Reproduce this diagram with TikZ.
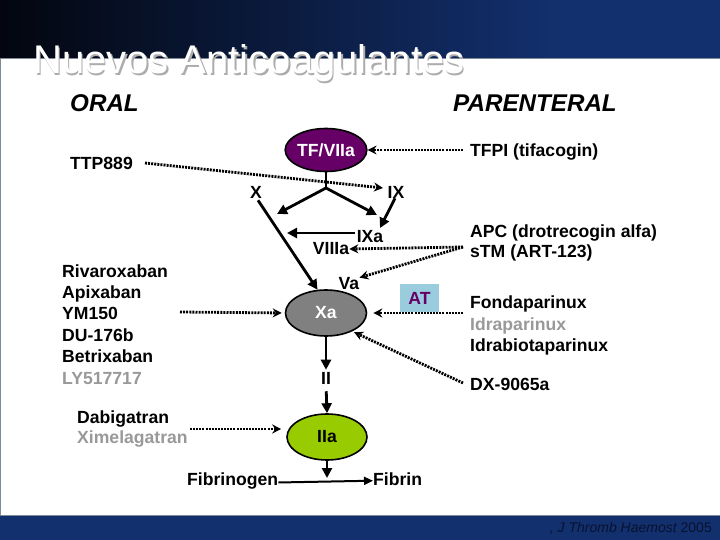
\documentclass[tikz,border=0pt]{standalone}
\usepackage{fontspec}
\setmainfont{Liberation Sans}
\usetikzlibrary{arrows.meta,shapes.geometric}
\definecolor{hdrdark}{HTML}{03060F}
\definecolor{hdrblue}{HTML}{13306E}
\definecolor{tfpurple}{HTML}{660066}
\definecolor{xagray}{HTML}{808080}
\definecolor{iiagreen}{HTML}{99CC00}
\definecolor{atblue}{HTML}{99CCDD}
\definecolor{paletxt}{HTML}{999999}
\definecolor{foottxt}{HTML}{081230}
\definecolor{rulegray}{HTML}{7F8A99}
\begin{document}
\begin{tikzpicture}[x=1pt,y=-1pt,
  lbl/.style={font=\fontsize{17.6}{20}\selectfont\bfseries, inner sep=0pt, anchor=base west},
  mid/.style={font=\fontsize{17.6}{20}\selectfont\bfseries, inner sep=0pt},
  pale/.style={text=paletxt},
  factor/.style={ellipse, draw=black, line width=1.6pt, inner sep=0pt, font=\fontsize{17.6}{20}\selectfont\bfseries},
  react/.style={line width=2.8pt, -{Triangle[length=10pt,width=10pt]}},
  inhib/.style={line width=2.8pt, dash pattern=on 2pt off 1.1pt, -{Stealth[length=9pt,width=9pt,inset=3pt]}},
  heading/.style={font=\fontsize{24.2}{25}\selectfont\bfseries\itshape, inner sep=0pt, anchor=base west},
  titletxt/.style={font=\fontsize{40}{40}\selectfont, inner sep=0pt, anchor=base west}
]
\useasboundingbox (0,0) rectangle (720,540);
\fill[white] (0,0) rectangle (720,540);
% header and footer bands
\shade[left color=hdrdark, right color=hdrblue] (0,0) rectangle (560,58);
\fill[hdrblue] (559.5,0) rectangle (720,58);
\draw[rulegray, line width=1pt] (0,58.5) -- (720,58.5);
\draw[rulegray, line width=1pt] (0.5,58) -- (0.5,516);
\fill[hdrblue] (0,516) rectangle (720,540);
\draw[rulegray, line width=1pt] (0,515.5) -- (720,515.5);

% title
\node[titletxt, text=gray!65] (titleshadow) at (34.5,75.5) {Nuevos Anticoagulantes};
\node[titletxt, text=white] (title) at (33,74) {Nuevos Anticoagulantes};

% headings
\node[heading] (oral) at (70,112) {ORAL};
\node[heading] (parent) at (453,112) {PARENTERAL};

% factor ellipses
\node[factor, fill=tfpurple, text=white, minimum width=78pt, minimum height=43pt] (tf) at (326,150) {TF/VIIa};
\node[factor, fill=xagray, text=white, minimum width=81pt, minimum height=46pt] (xa) at (326,313) {Xa};
\node[factor, fill=iiagreen, minimum width=80pt, minimum height=46pt] (iia) at (327,437) {IIa};

% cascade labels
\node[mid] (x) at (256,192) {X};
\node[mid] (ix) at (396,192) {IX};
\node[mid] (ixa) at (370,237) {IXa};
\node[mid] (viiia) at (331,249) {VIIIa};
\node[mid] (va) at (349,284) {Va};
\node[mid] (ii) at (326,378) {II};
\node[mid, fill=atblue, text=tfpurple, minimum width=39pt, minimum height=28pt] (at) at (419.5,298) {AT};

% drug texts
\node[lbl] (ttp) at (70,170) {TTP889};
\node[lbl] (tfpi) at (470,157) {TFPI (tifacogin)};
\node[lbl] (apc) at (470,237) {APC (drotrecogin alfa)};
\node[lbl] (stm) at (470,258) {sTM (ART-123)};
\node[lbl] (riva) at (62,277) {Rivaroxaban};
\node[lbl] (api) at (62,298) {Apixaban};
\node[lbl] (ym) at (62,319) {YM150};
\node[lbl] (du) at (62,341) {DU-176b};
\node[lbl] (betri) at (62,362) {Betrixaban};
\node[lbl, pale] (ly) at (62,384) {LY517717};
\node[lbl] (dabi) at (77,423) {Dabigatran};
\node[lbl, pale] (xime) at (77,443) {Ximelagatran};
\node[lbl] (fonda) at (470,308) {Fondaparinux};
\node[lbl, pale] (idra) at (470,330) {Idraparinux};
\node[lbl] (idrabio) at (470,351) {Idrabiotaparinux};
\node[lbl] (dx) at (470,390) {DX-9065a};
\node[lbl] (fibgen) at (187,485) {Fibrinogen};
\node[lbl] (fibrin) at (373,485) {Fibrin};

% footer
\node[font=\fontsize{14}{14}\selectfont, text=foottxt, inner sep=0pt, anchor=base east] (cite) at (712,532) {\itshape , J Thromb Haemost\upshape\ 2005};

% free connector ends
\coordinate (j) at (326,188);
\coordinate (xl) at (277,214);
\coordinate (xr) at (377,215);
\coordinate (ixtip) at (380,228);
\coordinate (ixaend) at (287,233);
\coordinate (ttpstart) at (145,163);
\coordinate (ttpend) at (383,188);
\coordinate (tfpistart) at (463,150);
\coordinate (apcstart) at (463,247);
\coordinate (fondastart) at (463,313);
\coordinate (dxstart) at (463,383);
\coordinate (liststart) at (180,312);
\coordinate (dabistart) at (190,429);
\coordinate (fibjoin) at (327,478);

% reactions
\draw[line width=2.8pt] (tf.south) -- (j);
\draw[react] (j) -- (xl);
\draw[react] (j) -- (xr);
\draw[react] ([xshift=-1pt]ix.south) -- (ixtip);
\draw[react] ([yshift=4pt,xshift=-2pt]ixa.west) -- (ixaend);
\draw[react] ([yshift=-2pt,xshift=2pt]x.south) -- (xa.110);
\draw[react, shorten >=2pt] (xa.south) -- (ii.north);
\draw[react, shorten <=7pt] (ii.south) -- (iia.north);
\draw[react] (iia.south) -- (fibjoin);
\draw[line width=2pt, -{Triangle[length=9pt,width=8pt]}] ([yshift=-2pt]fibgen.east) -- ([yshift=-2pt]fibrin.west);

% inhibitions
\draw[inhib] (ttpstart) -- (ttpend);
\draw[inhib] (tfpistart) -- (tf.east);
\draw[inhib] (apcstart) -- (viiia.east);
\draw[inhib] (apcstart) -- (va.north east);
\draw[inhib, shorten >=6pt] (fondastart) -- (xa.east);
\draw[inhib, shorten >=2pt] (dxstart) -- (xa.-35);
\draw[inhib, shorten >=3pt] (liststart) -- (xa.west);
\draw[inhib, shorten >=5pt] (dabistart) -- ([yshift=8pt]iia.west);
\end{tikzpicture}
\end{document}
